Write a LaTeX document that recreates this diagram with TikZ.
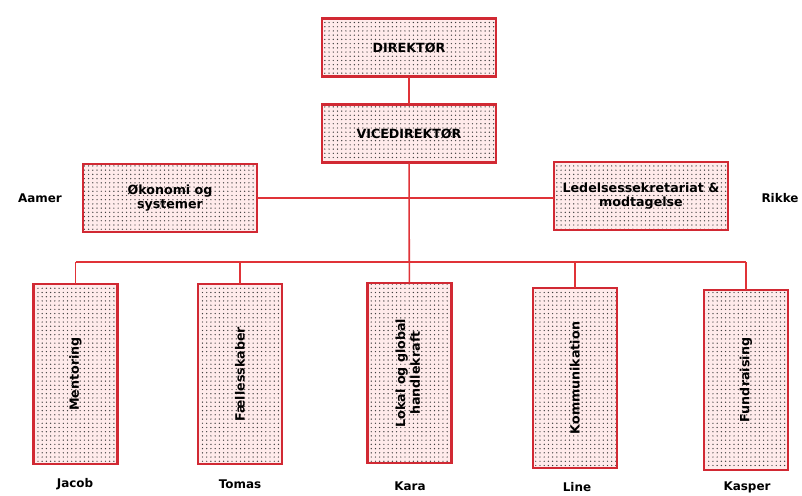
\documentclass[tikz,border=0pt]{standalone}
\usepackage{fontspec}
\setmainfont{DejaVu Sans}
\usepackage{graphicx}
\usetikzlibrary{patterns, positioning}
\definecolor{boxred}{rgb}{0.82, 0.16, 0.2}
\definecolor{linered}{rgb}{0.88, 0.2, 0.22}
\definecolor{pinkbg}{rgb}{1, 0.92, 0.92}

\tikzset{
	box/.style={fill=pinkbg,
		postaction={pattern=dots, pattern color=black!75},
		postaction={draw=boxred, line width=1.5pt},
		align=center, inner sep=2pt, font=\bfseries\fontsize{9}{10.5}\selectfont},
	topbox/.style={box, minimum width=4.35cm, minimum height=1.45cm},
	midbox/.style={box, minimum width=4.35cm, minimum height=1.68cm},
	lowbox/.style={box, minimum width=2.1cm, minimum height=4.5cm},
	link/.style={linered, line width=1.1pt},
	person/.style={font=\bfseries\fontsize{8.5}{10}\selectfont}
}

\begin{document}
\begin{tikzpicture}[x=0.025cm, y=-0.025cm]
		\useasboundingbox (0,0) rectangle (802,495);
		\node[topbox] (dir) at (409,47.5) {DIREKTØR};
		\node[topbox] (vice) at (409,133.5) {VICEDIREKTØR};
		\node[midbox] (oko) at (170,198) {Økonomi og\\systemer};
		\node[midbox] (led) at (641,196) {Ledelsessekretariat \&\\modtagelse};
		\node[lowbox] (mentor) at (75.5,374) {\rotatebox{90}{Mentoring}};
		\node[lowbox] (faelles) at (240,374) {\rotatebox{90}{Fællesskaber}};
		\node[lowbox] (lokal) at (409.5,373) {\rotatebox{90}{\begin{tabular}{@{}c@{}}Lokal og global\\handlekraft\end{tabular}}};
		\node[lowbox] (komm) at (575,378) {\rotatebox{90}{Kommunikation}};
		\node[lowbox] (fund) at (746,380) {\rotatebox{90}{Fundraising}};
		\coordinate (bus) at (409,262);
		\draw [link] (dir) -- (vice);
		\draw [link] (vice) -- (lokal);
		\draw [link] (oko.east |- 0,198) -- (led.west |- 0,198);
		\draw [link] (mentor.north |- bus) -- (fund.north |- bus);
		\foreach \n in {mentor, faelles, komm, fund}{
			\draw [link] (\n.north) -- (\n.north |- bus);
		}
		\node[person] (aamer) at (40,198) {Aamer};
		\node[person] (rikke) at (780,198) {Rikke};
		\node[person] (jacob) at (75,484) {Jacob};
		\node[person] (tomas) at (240,484) {Tomas};
		\node[person] (kara) at (410,486) {Kara};
		\node[person] (line) at (577,487) {Line};
		\node[person] (kasper) at (747,487) {Kasper};
	\end{tikzpicture}
\end{document}
